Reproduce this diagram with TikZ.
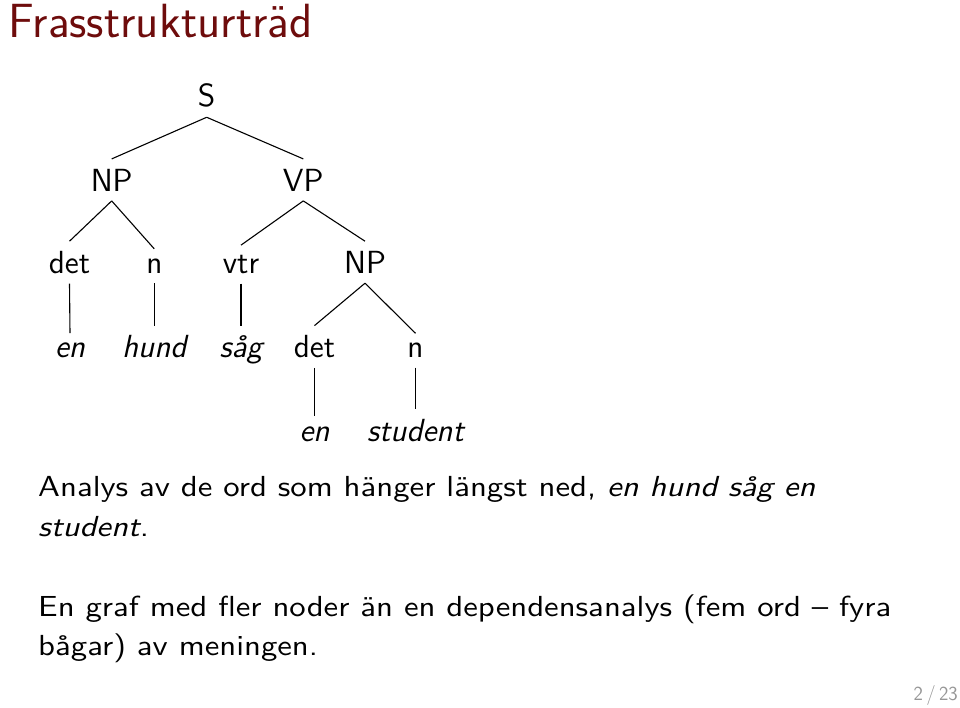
\documentclass[tikz,border=0pt]{standalone}
\usepackage{fontspec}
\newfontfamily\bodyfont{lmsans10-regular.otf}[ItalicFont=lmsans10-oblique.otf,FakeStretch=1.13,Ligatures=TeX]
\newfontfamily\treefont{lmsans12-regular.otf}[ItalicFont=lmsans12-oblique.otf,Ligatures=TeX]
\definecolor{titlered}{RGB}{110,12,12}
\definecolor{footgray}{RGB}{150,150,150}
\begin{document}
\begin{tikzpicture}[x=1pt,y=-1pt,
  lbl/.style={anchor=base,inner sep=9.7pt,font=\treefont\fontsize{32}{38}\selectfont},
  word/.style={lbl,font=\treefont\itshape\fontsize{32}{38}\selectfont},
  body/.style={anchor=base west,inner sep=0pt,font=\bodyfont\fontsize{29}{35}\selectfont},
  edge/.style={line width=1.1pt}]
\useasboundingbox (0,0) rectangle (960,707);
\node[anchor=base west,inner sep=0pt,text=titlered,font=\sffamily\fontsize{48}{57}\selectfont] (title) at (8,37.5) {Frasstrukturträd};
% tree
\node[lbl] (S) at (206.7,106.7) {S};
\node[lbl] (NP) at (111.7,191) {NP};
\node[lbl] (VP) at (303.3,191) {VP};
\node[lbl] (det) at (69.5,273.3) {det};
\node[lbl] (n) at (154.3,273.3) {n};
\node[lbl] (vtr) at (241,273.3) {vtr};
\node[lbl] (NPb) at (365,273.3) {NP};
\node[word] (en) at (70,357.7) {en};
\node[word] (hund) at (154.3,357.7) {hund};
\node[word] (sag) at (241,357.7) {såg};
\node[lbl] (detb) at (314.5,357.7) {det};
\node[lbl] (nb) at (415.5,357.7) {n};
\node[word] (enb) at (314.5,441) {en};
\node[word] (student) at (415.5,441) {student};
\draw[edge] (S.south) -- (NP.north);
\draw[edge] (S.south) -- (VP.north);
\draw[edge] (NP.south) -- (det.north);
\draw[edge] (NP.south) -- (n.north);
\draw[edge] (VP.south) -- (vtr.north);
\draw[edge] (VP.south) -- (NPb.north);
\draw[edge] (det.south) -- (en.north);
\draw[edge] (n.south) -- (hund.north);
\draw[edge] (vtr.south) -- (sag.north);
\draw[edge] (NPb.south) -- (detb.north);
\draw[edge] (NPb.south) -- (nb.north);
\draw[edge] (detb.south) -- (enb.north);
\draw[edge] (nb.south) -- (student.north);
% body text
\node[body] (l1) at (38,496.7) {Analys av de ord som hänger längst ned, \textit{en hund såg en}};
\node[body] (l2) at (38,536) {\textit{student}.};
\node[body] (l3) at (38,616.7) {En graf med fler noder än en dependensanalys (fem ord – fyra};
\node[body] (l4) at (38,655) {bågar) av meningen.};
\node[anchor=base east,inner sep=0pt,text=footgray,font=\sffamily\fontsize{20}{24}\selectfont] (pg) at (958,700.5) {2\,/\,23};
\end{tikzpicture}
\end{document}
